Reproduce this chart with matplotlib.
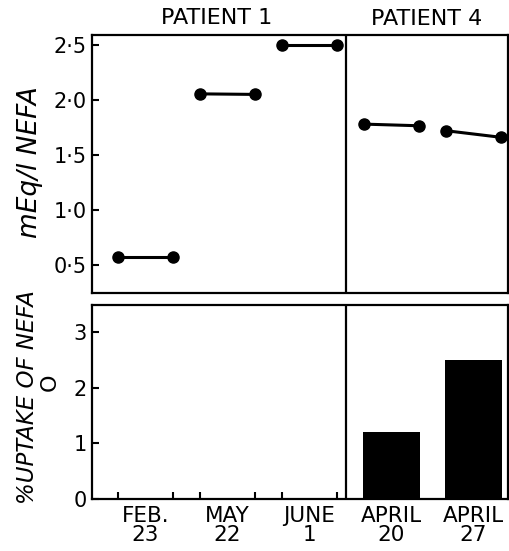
import matplotlib
matplotlib.use("Agg")
import matplotlib.pyplot as plt
import numpy as np

# ---- data ----
dates = ["FEB.\n23", "MAY\n22", "JUNE\n1", "APRIL\n20", "APRIL\n27"]
patients = ["PATIENT 1", "PATIENT 1", "PATIENT 1", "PATIENT 4", "PATIENT 4"]
nefa_start = [0.57, 2.055, 2.50, 1.78, 1.72]
nefa_end = [0.57, 2.05, 2.50, 1.765, 1.66]
uptake = [np.nan, np.nan, np.nan, 1.2, 2.5]
top_ticks = [0.5, 1.0, 1.5, 2.0, 2.5]
top_ticklabels = ["0·5", "1·0", "1·5", "2·0", "2·5"]
bot_ticks = [0, 1, 2, 3]
bot_ticklabels = ["0", "1", "2", "3"]

W, H = 510, 551
fig = plt.figure(figsize=(W / 100, H / 100), dpi=100)
plt.rcParams['font.family'] = ['DejaVu Sans']

def ax_rect(l, t, r, b):
    return [l / W, (H - b) / H, (r - l) / W, (b - t) / H]

ax1 = fig.add_axes(ax_rect(92, 35, 508, 293))
ax2 = fig.add_axes(ax_rect(92, 305, 508, 499))

x = np.arange(len(dates))
off = 0.335
xlim = (-0.652, 4.42)
divider = 2.445
fs = 15

for ax in (ax1, ax2):
    ax.set_xlim(*xlim)
    for s in ax.spines.values():
        s.set_linewidth(1.6)
    ax.axvline(divider, color='black', lw=1.6)
    ax.tick_params(axis='y', direction='in', length=5, width=1.5, labelsize=fs, pad=4)

# top panel
for i in range(len(dates)):
    ax1.plot([x[i] - off, x[i] + off], [nefa_start[i], nefa_end[i]],
             color='black', lw=2.2, marker='o', markersize=8)
ax1.set_ylim(0.245, 2.59)
ax1.set_yticks(top_ticks)
ax1.set_yticklabels(top_ticklabels)
ax1.set_xticks([])

# bottom panel
ax2.bar(x, uptake, width=0.695, color='black')
ax2.set_ylim(0, 3.48)
ax2.set_yticks(bot_ticks)
ax2.set_yticklabels(bot_ticklabels)
p1 = [i for i, p in enumerate(patients) if p == "PATIENT 1"]
tick_pos = []
for i in p1:
    tick_pos += [x[i] - off, x[i] + off]
ax2.set_xticks(tick_pos)
ax2.set_xticklabels([])
ax2.tick_params(axis='x', which='major', direction='in', length=5, width=1.5)
ax2.set_xticks(x, minor=True)
ax2.set_xticklabels(dates, minor=True, fontsize=15.5, linespacing=0.95)
ax2.tick_params(axis='x', which='minor', length=0, pad=5)

# patient titles
fig.text(217 / W, 1 - 18 / H, "PATIENT 1", ha='center', va='center', fontsize=16)
fig.text(427 / W, 1 - 19 / H, "PATIENT 4", ha='center', va='center', fontsize=16)

# y labels
fig.text(30 / W, 1 - 162 / H, "mEq/l NEFA", rotation=90, style='italic',
         ha='center', va='center', fontsize=19)
fig.text(28 / W, 1 - 397 / H, "%UPTAKE OF NEFA", rotation=90, style='italic',
         ha='center', va='center', fontsize=16.5)
fig.text(50 / W, 1 - 382 / H, "O", rotation=90,
         ha='center', va='center', fontsize=16)

fig.savefig("out.png", dpi=100)
